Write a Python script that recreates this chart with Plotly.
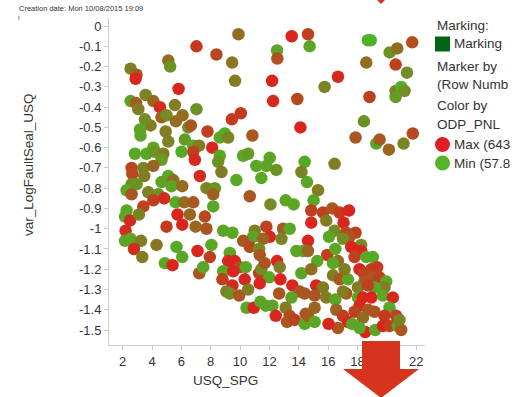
import plotly.graph_objects as go

# USQ_SPG (x), var_LogFaultSeal_USQ (y) and ODP_PNL (colour) for each row
usq_spg = [
    # upper band
    2.54, 2.95, 2.88, 5.11, 5.24, 7.03, 8.39, 9.89, 9.46, 9.66, 5.81, 3.56, 2.54, 2.91, 3.07,
    4.09, 4.54, 5.56, 7.03, 4.65, 4.99, 5.63, 6.08, 3.90, 3.52, 3.18, 3.22, 4.93, 5.11, 6.47,
    6.65, 7.78, 9.44, 10.05, 8.62, 8.96, 9.19, 10.84, 6.24, 6.81, 7.21, 8.10, 4.09, 12.18, 12.25,
    12.52, 12.54, 13.52, 14.63, 14.74, 13.90, 14.11, 15.76, 16.67, 17.87, 18.44, 18.60, 18.71, 18.90, 18.82,
    19.28, 19.51, 20.14, 20.19, 20.71, 20.60, 21.37, 21.73, 20.60, 20.98, 21.21, 20.60, 21.77, 21.14,
    # left cluster
    2.84, 3.63, 4.20, 4.77, 4.65, 6.01, 6.81, 6.92, 2.61, 2.66, 3.41, 3.47, 4.09, 2.61, 2.95,
    2.27, 2.61, 3.75, 4.43, 4.09, 4.83, 5.11, 4.65, 5.45, 5.33, 6.06, 7.26, 7.71, 5.61, 6.20,
    6.81, 3.41, 2.27, 2.16, 2.50, 3.11, 5.74, 6.58, 7.60, 6.06, 6.97, 7.71, 4.99, 2.20, 2.16,
    2.54, 3.25, 4.31, 2.77, 5.67, 7.10, 3.34, 6.06, 4.88, 5.40, 7.22, 7.49,
    # middle
    8.62, 8.51, 8.73, 10.21, 10.55, 12.02, 11.11, 11.79, 12.47, 11.45, 9.75, 14.40, 14.18, 14.56, 8.28,
    8.17, 8.17, 10.66, 12.07, 13.11, 13.65, 8.85, 9.48, 11.00, 10.89, 11.79, 12.02, 12.93, 13.38, 10.21,
    11.57, 12.82, 14.63,
    # right of middle
    16.44, 15.31, 15.01, 14.85, 15.65, 16.28, 16.78, 17.42, 15.87, 17.05, 14.85, 16.44, 16.06, 17.23, 17.87,
    17.46, 17.01, 18.25,
    # lower band
    7.94, 8.05, 9.30, 10.66, 11.30, 11.34, 13.84, 14.29, 9.19, 9.64, 9.98, 10.39, 8.85, 9.53, 8.80,
    10.32, 11.30, 11.45, 11.68, 11.98, 12.52, 12.70, 12.75, 11.34, 9.48, 9.07, 9.30, 9.94, 10.55, 13.56,
    14.18, 14.06, 12.66, 13.50, 14.40, 10.44, 10.93, 11.39, 11.75, 12.20, 12.43, 13.11, 13.38, 13.20, 13.72,
    14.47, 14.40,
    # lower right
    14.63, 15.94, 15.26, 16.49, 16.67, 16.33, 17.57, 18.25, 17.80, 18.60, 19.05, 14.85, 16.33, 16.78, 17.35,
    17.12, 18.14, 18.44, 18.94, 19.34, 19.05, 19.50, 19.96, 19.84, 18.48, 18.03, 19.16, 18.70, 15.19, 15.65,
    15.08, 15.87, 16.49, 17.23, 17.01, 18.03, 18.37, 18.94, 19.73, 20.41, 15.08, 16.55, 18.14, 18.71, 20.18,
    17.80, 19.16, 18.37, 19.84, 20.64, 14.63, 15.08, 17.01, 17.35, 16.67, 17.64, 16.03, 18.53, 19.21, 19.73,
    20.18, 20.75, 20.98, 18.14, 20.86,
]

log_fault_seal = [
    # upper band
    -0.21, -0.24, -0.26, -0.17, -0.20, -0.10, -0.14, -0.04, -0.18, -0.27, -0.31, -0.34, -0.37, -0.38, -0.41,
    -0.37, -0.40, -0.39, -0.41, -0.45, -0.44, -0.47, -0.44, -0.49, -0.46, -0.51, -0.54, -0.52, -0.57, -0.50,
    -0.49, -0.52, -0.46, -0.43, -0.55, -0.53, -0.55, -0.54, -0.56, -0.59, -0.59, -0.60, -0.60, -0.27, -0.37,
    -0.12, -0.16, -0.05, -0.04, -0.10, -0.36, -0.50, -0.30, -0.25, -0.55, -0.47, -0.18, -0.07, -0.07, -0.35,
    -0.58, -0.56, -0.61, -0.13, -0.11, -0.19, -0.23, -0.08, -0.32, -0.30, -0.32, -0.35, -0.53, -0.58,
    # left cluster
    -0.63, -0.63, -0.62, -0.63, -0.66, -0.62, -0.62, -0.66, -0.70, -0.73, -0.70, -0.74, -0.69, -0.78, -0.78,
    -0.81, -0.83, -0.82, -0.83, -0.86, -0.85, -0.74, -0.77, -0.76, -0.79, -0.79, -0.74, -0.80, -0.87, -0.87,
    -0.87, -0.89, -0.91, -0.94, -0.96, -0.93, -0.93, -0.93, -0.94, -0.98, -0.99, -1.00, -0.99, -1.01, -1.06,
    -1.05, -1.06, -1.08, -1.10, -1.09, -1.11, -1.14, -1.14, -1.17, -1.18, -1.22, -1.19,
    # middle
    -0.64, -0.67, -0.72, -0.64, -0.63, -0.65, -0.69, -0.69, -0.71, -0.75, -0.76, -0.67, -0.72, -0.77, -0.80,
    -0.83, -0.89, -0.84, -0.88, -0.86, -0.88, -1.01, -1.02, -1.01, -1.04, -0.99, -1.04, -1.00, -1.00, -1.06,
    -1.05, -1.05, -1.06,
    # right of middle
    -0.68, -0.81, -0.86, -0.91, -0.92, -0.90, -0.92, -0.91, -0.96, -0.97, -0.97, -1.01, -1.04, -1.02, -1.02,
    -1.04, -1.05, -1.08,
    # lower band
    -1.14, -1.08, -1.12, -1.09, -1.10, -1.13, -1.11, -1.11, -1.16, -1.16, -1.19, -1.19, -1.21, -1.21, -1.25,
    -1.25, -1.22, -1.20, -1.17, -1.24, -1.16, -1.19, -1.25, -1.27, -1.28, -1.31, -1.32, -1.33, -1.30, -1.28,
    -1.22, -1.31, -1.32, -1.34, -1.32, -1.39, -1.39, -1.36, -1.38, -1.38, -1.43, -1.39, -1.43, -1.46, -1.45,
    -1.42, -1.47,
    # lower right
    -1.11, -1.13, -1.16, -1.10, -1.16, -1.17, -1.09, -1.11, -1.14, -1.14, -1.14, -1.20, -1.23, -1.25, -1.25,
    -1.20, -1.20, -1.22, -1.20, -1.19, -1.24, -1.24, -1.26, -1.29, -1.26, -1.29, -1.29, -1.28, -1.28, -1.29,
    -1.33, -1.34, -1.35, -1.32, -1.31, -1.34, -1.34, -1.34, -1.33, -1.34, -1.39, -1.40, -1.38, -1.40, -1.39,
    -1.41, -1.41, -1.44, -1.43, -1.43, -1.43, -1.46, -1.43, -1.46, -1.49, -1.47, -1.47, -1.51, -1.50, -1.48,
    -1.48, -1.48, -1.50, -1.49, -1.45,
]

odp_pnl = [
    # upper band
    263, 380, 614, 321, 175, 526, 467, 321, 292, 263, 614, 233, 116, 380, 263,
    350, 584, 263, 175, 380, 204, 321, 321, 263, 204, 116, 116, 263, 233, 175,
    409, 497, 526, 526, 105, 87, 233, 409, 146, 105, 263, 614, 105, 614, 596,
    116, 438, 614, 497, 116, 467, 614, 233, 596, 409, 175, 321, 58, 58, 497,
    87, 409, 350, 175, 321, 497, 204, 438, 233, 58, 204, 146, 467, 233,
    # left cluster
    105, 105, 175, 263, 146, 87, 497, 596, 497, 467, 233, 263, 350, 233, 175,
    105, 409, 233, 175, 497, 584, 87, 116, 321, 116, 321, 596, 233, 87, 321,
    409, 497, 105, 105, 584, 233, 614, 350, 467, 614, 350, 409, 526, 573, 105,
    105, 263, 292, 584, 87, 614, 263, 105, 105, 614, 409, 105,
    # middle
    105, 175, 263, 105, 146, 105, 105, 116, 175, 105, 87, 87, 233, 105, 175,
    380, 105, 409, 204, 105, 105, 105, 105, 263, 116, 497, 614, 409, 105, 409,
    350, 233, 614,
    # right of middle
    263, 263, 105, 497, 497, 409, 526, 614, 263, 614, 614, 204, 105, 497, 497,
    409, 204, 204,
    # lower band
    497, 105, 105, 467, 204, 409, 105, 116, 596, 614, 438, 105, 87, 614, 497,
    614, 526, 204, 409, 105, 614, 263, 614, 614, 596, 263, 204, 409, 263, 614,
    105, 409, 409, 116, 409, 105, 614, 105, 116, 116, 614, 263, 438, 409, 497,
    409, 105,
    # lower right
    350, 526, 105, 105, 321, 105, 614, 614, 497, 105, 87, 321, 263, 409, 105,
    263, 614, 497, 497, 526, 409, 497, 105, 263, 409, 263, 105, 497, 614, 263,
    409, 263, 105, 409, 263, 105, 614, 614, 105, 596, 350, 350, 614, 409, 105,
    497, 409, 321, 526, 497, 409, 105, 497, 614, 409, 105, 614, 614, 105, 614,
    497, 105, 409, 105, 233,
]

x_ticks = [2, 4, 6, 8, 10, 12, 14, 16, 18, 20, 22]
y_ticks = [0, -0.1, -0.2, -0.3, -0.4, -0.5, -0.6, -0.7, -0.8, -0.9, -1, -1.1, -1.2, -1.3, -1.4, -1.5]
y_tick_text = ["0", "-0.1", "-0.2", "-0.3", "-0.4", "-0.5", "-0.6", "-0.7", "-0.8", "-0.9",
               "-1", "-1.1", "-1.2", "-1.3", "-1.4", "-1.5"]

pnl_min, pnl_max = 57.8, 643

FONT = "Liberation Sans, Arial, sans-serif"
TEXT = "#333333"
AXIS = "#cccccc"

# plot area in pixels: left 109, right 425, top 18, bottom 345
L, R, T, B = 109, 425, 18, 345


def px(x):
    return (x - L) / (R - L)


def py(y):
    return (B - y) / (B - T)


fig = go.Figure(
    go.Scatter(
        x=usq_spg,
        y=log_fault_seal,
        mode="markers",
        marker=dict(
            size=12.5,
            color=odp_pnl,
            cmin=pnl_min,
            cmax=pnl_max,
            colorscale=[
                [0.0, "rgb(78,178,38)"],
                [0.3, "rgb(122,132,34)"],
                [0.6, "rgb(170,86,32)"],
                [1.0, "rgb(224,30,30)"],
            ],
            showscale=False,
            line=dict(width=0),
        ),
        showlegend=False,
    )
)

axis_common = dict(
    showgrid=False,
    zeroline=False,
    showline=True,
    linecolor=AXIS,
    linewidth=1,
    ticks="outside",
    ticklen=4,
    tickcolor=AXIS,
    tickfont=dict(family=FONT, size=13, color=TEXT),
)

fig.update_xaxes(range=[1.07, 22.6], tickvals=x_ticks, **axis_common)
fig.update_yaxes(range=[-1.574, 0.04], tickvals=y_ticks, ticktext=y_tick_text, **axis_common)

annotations = [
    dict(text="USQ_SPG", x=px(225), y=py(380), font=dict(size=13.5)),
    dict(text="var_LogFaultSeal_USQ", x=px(28), y=py(165), textangle=-90, font=dict(size=13.5)),
    dict(text="Creation date: Mon 10/08/2015 19:09", x=px(17), y=py(8), xanchor="left",
         font=dict(size=7.5)),
    dict(text="I", x=px(16), y=py(18), xanchor="left", font=dict(size=6)),
]
legend_rows = [
    ("Marking:", 435, 25),
    ("Marking", 452, 43.5),
    ("Marker by", 435, 66),
    ("(Row Numb", 435, 84.5),
    ("Color by", 435, 106),
    ("ODP_PNL", 435, 124),
    ("Max (643", 452, 144.5),
    ("Min (57.8", 452, 163),
]
for label, lx, ly in legend_rows:
    annotations.append(dict(text=label, x=px(lx), y=py(ly), xanchor="left", font=dict(size=13.5)))

for a in annotations:
    a.setdefault("xanchor", "center")
    a.update(xref="paper", yref="paper", yanchor="middle", showarrow=False)
    a["font"].update(family=FONT, color=TEXT)

shapes = [
    # legend swatches
    dict(type="rect", x0=px(435), x1=px(450), y0=py(51.5), y1=py(36.5),
         fillcolor="rgb(0,100,20)", line=dict(width=0)),
    dict(type="circle", x0=px(435), x1=px(450), y0=py(152), y1=py(137),
         fillcolor="rgb(222,30,36)", line=dict(width=0)),
    dict(type="circle", x0=px(435), x1=px(450), y0=py(170.5), y1=py(155.5),
         fillcolor="rgb(84,180,40)", line=dict(width=0)),
    # red arrow below the axis
    dict(type="path", layer="above", fillcolor="rgb(214,52,28)", line=dict(width=0),
         path=(f"M {px(362)},{py(341)} L {px(400)},{py(341)} L {px(400)},{py(369)} "
               f"L {px(419)},{py(369)} L {px(381)},{py(398)} L {px(343)},{py(369)} "
               f"L {px(362)},{py(369)} Z")),
    # tip of the arrow above the chart
    dict(type="path", layer="above", fillcolor="rgb(214,52,28)", line=dict(width=0),
         path=f"M {px(376)},{py(-1)} L {px(386)},{py(-1)} L {px(381)},{py(4)} Z"),
]
for s in shapes:
    s.update(xref="paper", yref="paper")

fig.update_layout(
    width=518,
    height=397,
    autosize=False,
    margin=dict(l=L, r=518 - R, t=T, b=397 - B, pad=0),
    paper_bgcolor="white",
    plot_bgcolor="white",
    annotations=annotations,
    shapes=shapes,
)

fig.write_html("out.html")
